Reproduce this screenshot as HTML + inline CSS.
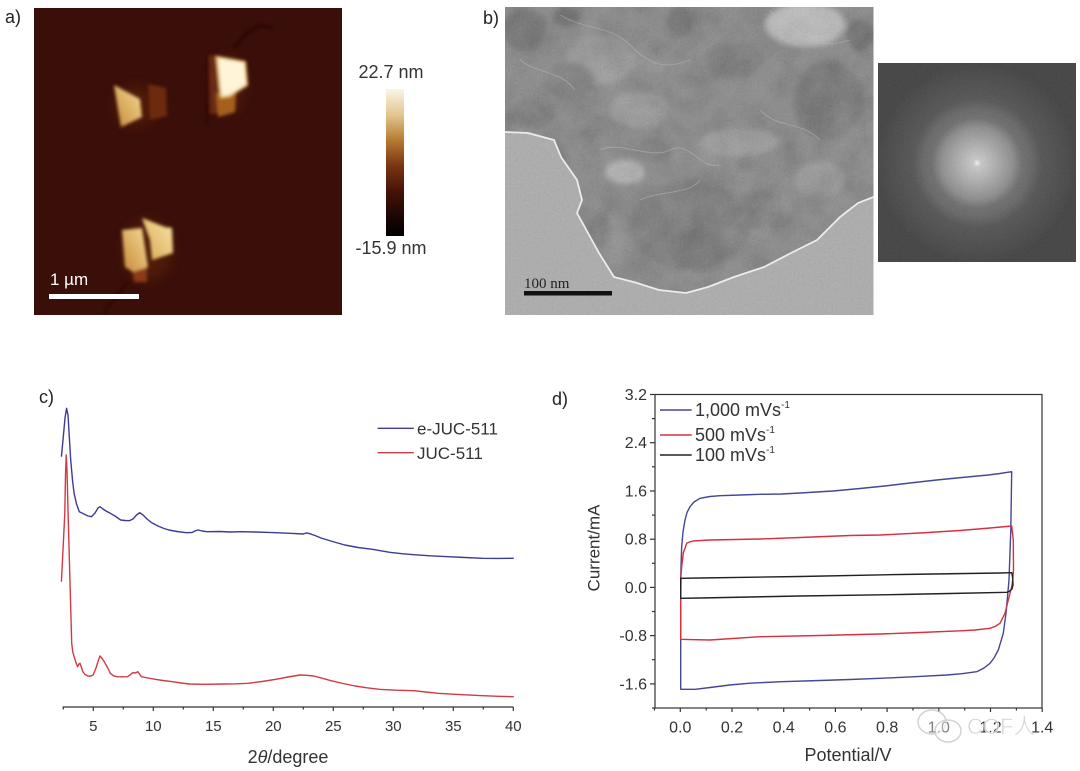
<!DOCTYPE html>
<html><head><meta charset="utf-8"><style>
html,body{margin:0;padding:0;background:#fff;}
svg{display:block;font-family:"Liberation Sans",Arial,sans-serif;}
</style></head><body>
<svg width="1080" height="771" viewBox="0 0 1080 771" xmlns="http://www.w3.org/2000/svg">
<defs>
  <linearGradient id="cbar" x1="0" y1="0" x2="0" y2="1">
    <stop offset="0" stop-color="#faf6e6"/>
    <stop offset="0.18" stop-color="#e2c48c"/>
    <stop offset="0.35" stop-color="#b57a32"/>
    <stop offset="0.52" stop-color="#7a3612"/>
    <stop offset="0.7" stop-color="#451208"/>
    <stop offset="0.86" stop-color="#1e0703"/>
    <stop offset="1" stop-color="#000"/>
  </linearGradient>
  <linearGradient id="f1" x1="0" y1="1" x2="1" y2="0">
    <stop offset="0" stop-color="#c58a38"/><stop offset="1" stop-color="#f6dc98"/>
  </linearGradient>
  <linearGradient id="f3" x1="0" y1="1" x2="1" y2="0">
    <stop offset="0" stop-color="#d8a850"/><stop offset="1" stop-color="#f8e4a8"/>
  </linearGradient>
  <radialGradient id="fft" cx="977" cy="163" r="100" gradientUnits="userSpaceOnUse">
    <stop offset="0" stop-color="#f4f4f4"/>
    <stop offset="0.04" stop-color="#c8c8c8"/>
    <stop offset="0.2" stop-color="#aaaaaa"/>
    <stop offset="0.36" stop-color="#8a8a8a"/>
    <stop offset="0.45" stop-color="#6a6a6a"/>
    <stop offset="0.54" stop-color="#626262"/>
    <stop offset="0.64" stop-color="#4f4f4f"/>
    <stop offset="0.8" stop-color="#474747"/>
    <stop offset="0.88" stop-color="#434343"/>
    <stop offset="1" stop-color="#3c3c3c"/>
  </radialGradient>
  <filter id="blur1" x="-20%" y="-20%" width="140%" height="140%"><feGaussianBlur stdDeviation="1.6"/></filter>
  <filter id="blur3" x="-50%" y="-50%" width="200%" height="200%"><feGaussianBlur stdDeviation="3"/></filter>
  <filter id="blur5" x="-50%" y="-50%" width="200%" height="200%"><feGaussianBlur stdDeviation="6"/></filter>
  <filter id="noise" x="0" y="0" width="100%" height="100%">
    <feTurbulence type="fractalNoise" baseFrequency="0.035" numOctaves="4" seed="7"/>
    <feColorMatrix type="matrix" values="0.33 0.33 0.33 0 0 0.33 0.33 0.33 0 0 0.33 0.33 0.33 0 0 0 0 0 0 1"/>
  </filter>
  <filter id="noise2" x="0" y="0" width="100%" height="100%">
    <feTurbulence type="fractalNoise" baseFrequency="0.5" numOctaves="2" seed="3"/>
    <feColorMatrix type="matrix" values="0.33 0.33 0.33 0 0 0.33 0.33 0.33 0 0 0.33 0.33 0.33 0 0 0 0 0 0 1"/>
  </filter>
  <clipPath id="temclip"><rect x="505" y="7" width="368.5" height="308"/></clipPath>
  <clipPath id="sampleclip"><path d="M505,7 L873.5,7 L873.5,197 L858,203 L840,217 L817,240 L791,253 L764,267 L734,277 L708,287 L686,293 L659,290 L637,283 L614,277 L599,253 L588,233 L577,213 L582,200 L577,180 L561,157 L554,140 L528,133 L505,132 Z"/></clipPath>
</defs>

<!-- ===== Panel a ===== -->
<text x="5" y="23" font-size="18" fill="#222">a)</text>
<rect x="34" y="8" width="308" height="307" fill="#3a0f09"/>
<g filter="url(#blur5)" opacity="0.35">
  <ellipse cx="135" cy="106" rx="20" ry="20" fill="#7a3210"/>
  <ellipse cx="228" cy="85" rx="16" ry="28" fill="#7a3210"/>
  <ellipse cx="148" cy="250" rx="24" ry="30" fill="#7a3210"/>
</g>
<g filter="url(#blur1)">
  <polyline points="234,48 247,33 260,25 273,28" fill="none" stroke="#230806" stroke-width="2.5" opacity="0.8"/>
  <line x1="208" y1="55" x2="207" y2="125" stroke="#2a0a06" stroke-width="2.5" opacity="0.6"/>
  <polygon points="148,84 166,88 167,116 150,120" fill="#6e2a10"/>
  <polygon points="114,85 140,99 142,117 121,127" fill="url(#f1)"/>
  <polygon points="209,55 218,56 220,113 210,114" fill="#6a2a12"/>
  <polygon points="216,93 236,92 235,112 218,117" fill="#a4601e"/>
  <polygon points="217,57 245,62 247,85 229,96 221,97" fill="#fff4d8" stroke="#e8c070" stroke-width="2"/>
  <line x1="128" y1="282" x2="104" y2="312" stroke="#2a0a05" stroke-width="3" opacity="0.6"/>
  <polygon points="132,268 147,266 147,282 134,282" fill="#8c3a18"/>
  <polygon points="122,230 142,228 148,267 133,272 125,267" fill="url(#f1)"/>
  <polygon points="142,218 165,227 172,228 173,253 152,260 150,240" fill="url(#f3)"/>
</g>
<rect x="49" y="294" width="90" height="5" fill="#fff"/>
<text x="50" y="285" font-size="17" fill="#fff">1 µm</text>
<rect x="386" y="89" width="18" height="147" fill="url(#cbar)"/>
<text x="391" y="78" font-size="18" fill="#333" text-anchor="middle">22.7 nm</text>
<text x="391" y="254" font-size="18" fill="#333" text-anchor="middle">-15.9 nm</text>

<!-- ===== Panel b ===== -->
<text x="483" y="24" font-size="18" fill="#222">b)</text>
<g clip-path="url(#temclip)">
  <rect x="505" y="7" width="368.5" height="308" fill="#ababab"/>
  <rect x="505" y="7" width="368.5" height="308" filter="url(#noise2)" opacity="0.15"/>
  <g clip-path="url(#sampleclip)">
    <rect x="505" y="7" width="368.5" height="308" fill="#666"/>
    <g filter="url(#blur3)">
      <ellipse cx="525" cy="30" rx="22" ry="22" fill="#474747"/>
      <ellipse cx="567" cy="17" rx="13" ry="10" fill="#3c3c3c"/>
      <ellipse cx="680" cy="22" rx="13" ry="15" fill="#444"/>
      <ellipse cx="690" cy="225" rx="60" ry="45" fill="#555"/>
      <ellipse cx="700" cy="250" rx="30" ry="22" fill="#4a4a4a"/>
      <ellipse cx="828" cy="100" rx="35" ry="40" fill="#4c4c4c"/>
      <ellipse cx="530" cy="115" rx="25" ry="15" fill="#515151"/>
      <ellipse cx="860" cy="35" rx="14" ry="16" fill="#404040"/>
      <ellipse cx="805" cy="25" rx="40" ry="22" fill="#b4b4b4"/>
      <ellipse cx="625" cy="172" rx="20" ry="12" fill="#a4a4a4"/>
      <ellipse cx="740" cy="142" rx="40" ry="14" fill="#858585"/>
      <ellipse cx="600" cy="60" rx="35" ry="25" fill="#808080"/>
      <ellipse cx="760" cy="210" rx="25" ry="20" fill="#5c5c5c"/>
      <ellipse cx="570" cy="80" rx="25" ry="18" fill="#585858"/>
      <ellipse cx="640" cy="110" rx="30" ry="18" fill="#828282"/>
      <ellipse cx="820" cy="180" rx="25" ry="18" fill="#808080"/>
      <ellipse cx="600" cy="230" rx="12" ry="18" fill="#525252"/>
      <ellipse cx="735" cy="60" rx="30" ry="18" fill="#555"/>
      <ellipse cx="655" cy="150" rx="18" ry="12" fill="#525252"/>
    </g>
    <rect x="505" y="7" width="368.5" height="308" filter="url(#noise)" opacity="0.35"/>
    <rect x="505" y="7" width="368.5" height="308" filter="url(#noise2)" opacity="0.15"/>
    <g fill="none" stroke="#bdbdbd" stroke-width="0.9" opacity="0.5">
      <path d="M560,15 C585,30 610,25 630,45 S665,70 690,60"/>
      <path d="M770,10 C790,40 820,50 850,40"/>
      <path d="M600,150 C620,140 650,160 670,150 S700,170 720,165"/>
      <path d="M520,60 C540,75 560,70 575,90"/>
      <path d="M760,110 C780,130 800,120 820,140"/>
      <path d="M640,200 C660,190 690,195 700,180"/>
    </g>
  </g>
  <path d="M505,132 L528,133 L554,140 L561,157 L577,180 L582,200 L577,213 L588,233 L599,253 L614,277 L637,283 L659,290 L686,293 L708,287 L734,277 L764,267 L791,253 L817,240 L840,217 L858,203 L873.5,197" fill="none" stroke="#ececec" stroke-width="1.8"/>
</g>
<rect x="524" y="291" width="88" height="4.5" fill="#111"/>
<text x="524" y="288" font-size="15" fill="#222" font-family="Liberation Serif,serif">100  nm</text>
<rect x="878" y="63" width="198" height="199" fill="url(#fft)"/>
<rect x="878" y="63" width="198" height="199" filter="url(#noise2)" opacity="0.1"/>

<!-- ===== Panel c ===== -->
<text x="39" y="403" font-size="18" fill="#222">c)</text>
<polyline fill="none" stroke="#3c3c96" stroke-width="1.4" stroke-linejoin="round" points="61.4,456.7 63,440 65,418 66.6,408.3 68,415 69.5,440 70.7,460 72.5,480 74.1,493.3 76.5,504 79.3,511.7 84,514 88,516 91.4,516.7 95,513 98,508 100,506.7 103,509 106,511 110.3,513.3 115,516 120.7,520 125,520.5 129.3,520.7 133,519 136.5,515 139.7,512.7 143,515 147,519 151.7,522.7 158,526 164,528.5 169,530 177,531.5 186.2,532.7 192,532.5 196,530.5 198.3,530 202,531 206.9,531.7 220,531.5 230,532 241.4,531.7 255,532 265,532.3 275.9,532.7 290,533.3 303.4,534 306,533 308.6,533.3 315,535.5 321,538 327.6,540 336,542.5 344.8,545 358,547.5 372.4,549.3 381,550.8 389.7,552.3 402,553.7 413.8,554.7 430,555.8 448.3,556.7 465,557.5 482.8,558.3 498,558.4 513.8,558.3"/>
<polyline fill="none" stroke="#d23a44" stroke-width="1.4" stroke-linejoin="round" points="61.4,581.7 63,550 64.8,513.3 65.5,475 66.2,455 67,470 68,510 69,546.7 70.5,600 71.7,643.3 72.8,652 74.1,656.7 75.8,662 77.6,666.7 79,664 80,663.3 81.3,667 82.8,671.7 85,674.5 87.9,676 90.5,676.2 93.1,675 96,668 98.5,660 100,656 102.5,659 105.2,663.3 107.8,668 110.3,673.3 113.5,675.8 117.2,676.7 122,676.8 127.6,676.7 130.5,674.5 132.8,672.7 135.5,673 137.9,671.7 139.8,674.5 141.4,676.7 148,678 155.2,679.3 163,680.5 172.4,681.7 181,683 189.7,684 205,684.3 224.1,684 236,683.8 248.3,683.3 262,681.5 275.9,679.3 288,677 300,675 307,675.3 313.8,676 322,678.2 331,680.7 343,683.5 355.2,686 367,687.8 379.3,689.3 396,690.2 413.8,690.7 426,692 437.9,693.3 460,694.6 482.8,695.7 498,696.3 513.8,696.7"/>
<line x1="62.7" y1="707" x2="513.3" y2="707" stroke="#333" stroke-width="1.2"/>
<g stroke="#333" stroke-width="1.2">
  <line x1="63.3" y1="707" x2="63.3" y2="709.5"/>
  <line x1="93.3" y1="707" x2="93.3" y2="711"/>
  <line x1="123.3" y1="707" x2="123.3" y2="709.5"/>
  <line x1="153.3" y1="707" x2="153.3" y2="711"/>
  <line x1="183.3" y1="707" x2="183.3" y2="709.5"/>
  <line x1="213.3" y1="707" x2="213.3" y2="711"/>
  <line x1="243.3" y1="707" x2="243.3" y2="709.5"/>
  <line x1="273.3" y1="707" x2="273.3" y2="711"/>
  <line x1="303.3" y1="707" x2="303.3" y2="709.5"/>
  <line x1="333.3" y1="707" x2="333.3" y2="711"/>
  <line x1="363.3" y1="707" x2="363.3" y2="709.5"/>
  <line x1="393.3" y1="707" x2="393.3" y2="711"/>
  <line x1="423.3" y1="707" x2="423.3" y2="709.5"/>
  <line x1="453.3" y1="707" x2="453.3" y2="711"/>
  <line x1="483.3" y1="707" x2="483.3" y2="709.5"/>
  <line x1="513.3" y1="707" x2="513.3" y2="711"/>
</g>
<g font-size="15" fill="#333" text-anchor="middle">
  <text x="93.3" y="731">5</text><text x="153.3" y="731">10</text><text x="213.3" y="731">15</text>
  <text x="273.3" y="731">20</text><text x="333.3" y="731">25</text><text x="393.3" y="731">30</text>
  <text x="453.3" y="731">35</text><text x="513.3" y="731">40</text>
</g>
<text x="288" y="763" font-size="18" fill="#333" text-anchor="middle">2<tspan font-style="italic">θ</tspan>/degree</text>
<line x1="377.6" y1="428.3" x2="413.8" y2="428.3" stroke="#3c3c96" stroke-width="1.4"/>
<line x1="377.6" y1="452.7" x2="413.8" y2="452.7" stroke="#d23a44" stroke-width="1.4"/>
<text x="417" y="434.5" font-size="17" fill="#333">e-JUC-511</text>
<text x="417" y="459" font-size="17" fill="#333">JUC-511</text>

<!-- ===== Panel d ===== -->
<text x="552" y="405" font-size="18" fill="#222">d)</text>
<path fill="none" stroke="#464696" stroke-width="1.4" stroke-linejoin="round" d="M680.7,689.3 L680.7,580 681.2,560 681.7,546.7 683,532 685,520 687,512.5 690,506.7 694,502 700,498.3 710,496.5 720,495.7 740,495 760,494.3 781.4,494 800,493 833.1,491 860,488.5 884.8,486 910,483 936.6,480 962,477.5 988.3,475 1000,473.5 1011.7,471.7 1010.8,530 1009,580 1006,613.3 1003.3,633.3 998.3,650 994,658 990,663.3 984,668 976.7,671.7 962,673.7 946.7,675 915,676.7 880,678.3 850,679.5 820,680.5 781.4,681.7 750,683.2 729.7,685 710,687.5 695.2,689.3 Z"/>
<path fill="none" stroke="#d8303c" stroke-width="1.4" stroke-linejoin="round" d="M680.7,639.3 L680.7,600 681,575 681.7,566.7 683.3,553 686.7,543.3 690,541.8 693.3,541 710,540 760,539 800,537.5 850,535.5 880,535 920,533 960,530.5 990,528 1011.7,526 1013.3,540 1013.5,570 1012.7,580 1011.7,586.7 1008.3,600 1005,613.3 1000,623.3 995,626.5 990,628.3 975,630 963.3,630.7 920,632.5 880,634 820,635.5 760,636.7 710,640 690,639.6 Z"/>
<path fill="none" stroke="#222" stroke-width="1.4" stroke-linejoin="round" d="M680.7,598.3 L680.7,578.3 700,578 800,576.5 900,574.5 1000,573 1011.7,572.7 1012.7,578 1013,585 1012,589 1009,591.5 1006.7,592.3 950,593.5 900,594.5 800,596 700,598 Z"/>
<rect x="655" y="394.5" width="387" height="313.5" fill="none" stroke="#333" stroke-width="1.2"/>
<g stroke="#333" stroke-width="1.2">
  <line x1="650" y1="394.5" x2="655" y2="394.5"/><line x1="652" y1="418.6" x2="655" y2="418.6"/>
  <line x1="650" y1="442.7" x2="655" y2="442.7"/><line x1="652" y1="466.8" x2="655" y2="466.8"/>
  <line x1="650" y1="491" x2="655" y2="491"/><line x1="652" y1="515.1" x2="655" y2="515.1"/>
  <line x1="650" y1="539.2" x2="655" y2="539.2"/><line x1="652" y1="563.3" x2="655" y2="563.3"/>
  <line x1="650" y1="587.4" x2="655" y2="587.4"/><line x1="652" y1="611.5" x2="655" y2="611.5"/>
  <line x1="650" y1="635.6" x2="655" y2="635.6"/><line x1="652" y1="659.7" x2="655" y2="659.7"/>
  <line x1="650" y1="683.9" x2="655" y2="683.9"/><line x1="652" y1="708" x2="655" y2="708"/>
  <line x1="654.5" y1="708" x2="654.5" y2="710.5"/>
  <line x1="680.3" y1="708" x2="680.3" y2="712"/><line x1="706.2" y1="708" x2="706.2" y2="710.5"/>
  <line x1="732" y1="708" x2="732" y2="712"/><line x1="757.9" y1="708" x2="757.9" y2="710.5"/>
  <line x1="783.7" y1="708" x2="783.7" y2="712"/><line x1="809.6" y1="708" x2="809.6" y2="710.5"/>
  <line x1="835.4" y1="708" x2="835.4" y2="712"/><line x1="861.3" y1="708" x2="861.3" y2="710.5"/>
  <line x1="887.1" y1="708" x2="887.1" y2="712"/><line x1="913" y1="708" x2="913" y2="710.5"/>
  <line x1="938.8" y1="708" x2="938.8" y2="712"/><line x1="964.7" y1="708" x2="964.7" y2="710.5"/>
  <line x1="990.5" y1="708" x2="990.5" y2="712"/><line x1="1016.4" y1="708" x2="1016.4" y2="710.5"/>
  <line x1="1042.2" y1="708" x2="1042.2" y2="712"/>
</g>
<g font-size="16" fill="#333" text-anchor="end">
  <text x="647" y="400">3.2</text><text x="647" y="448.2">2.4</text><text x="647" y="496.5">1.6</text>
  <text x="647" y="544.7">0.8</text><text x="647" y="592.9">0.0</text><text x="647" y="641.1">-0.8</text>
  <text x="647" y="689.4">-1.6</text>
</g>
<g font-size="16" fill="#333" text-anchor="middle">
  <text x="680.3" y="732.5">0.0</text><text x="732" y="732.5">0.2</text><text x="783.7" y="732.5">0.4</text>
  <text x="835.4" y="732.5">0.6</text><text x="887.1" y="732.5">0.8</text><text x="938.8" y="732.5">1.0</text>
  <text x="990.5" y="732.5">1.2</text><text x="1042.2" y="732.5">1.4</text>
</g>
<text x="848" y="761" font-size="18" fill="#333" text-anchor="middle">Potential/V</text>
<text transform="translate(599.5,548) rotate(-90)" font-size="17" fill="#333" text-anchor="middle">Current/mA</text>
<line x1="660" y1="410" x2="691.7" y2="410" stroke="#464696" stroke-width="1.4"/>
<line x1="660" y1="435" x2="691.7" y2="435" stroke="#d8303c" stroke-width="1.4"/>
<line x1="660" y1="455" x2="691.7" y2="455" stroke="#222" stroke-width="1.4"/>
<g font-size="18" fill="#333">
  <text x="695" y="416">1,000 mVs<tspan font-size="10" dy="-8">-1</tspan></text>
  <text x="695" y="441">500 mVs<tspan font-size="10" dy="-8">-1</tspan></text>
  <text x="695" y="461">100 mVs<tspan font-size="10" dy="-8">-1</tspan></text>
</g>
<!-- watermark -->
<g opacity="0.75">
  <ellipse cx="932" cy="722" rx="14" ry="12" fill="#fff" fill-opacity="0.5" stroke="#c4c4c4" stroke-width="1.5"/>
  <ellipse cx="948" cy="731" rx="13" ry="11" fill="#fff" fill-opacity="0.5" stroke="#c4c4c4" stroke-width="1.5"/>
  <text x="967" y="734" font-size="22" fill="#c8c8c8" stroke="#fff" stroke-width="0.6" font-family="Liberation Sans,'Noto Sans CJK SC',sans-serif">COF人</text>
</g>
</svg>
</body></html>
